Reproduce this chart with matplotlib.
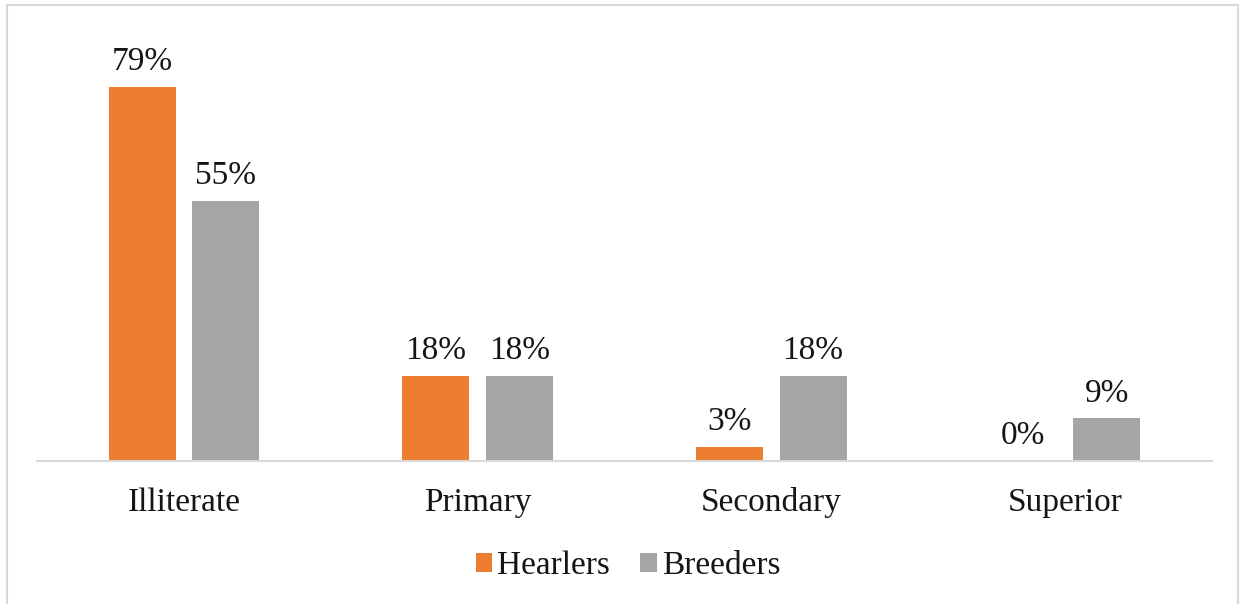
import numpy as np
import matplotlib.pyplot as plt
from matplotlib.patches import Rectangle

categories = ["Illiterate", "Primary", "Secondary", "Superior"]
hearlers = [79, 18, 3, 0]
breeders = [55, 18, 18, 9]

plt.rcParams['font.family'] = ['Liberation Serif', 'DejaVu Serif']

fig = plt.figure(figsize=(12.41, 6.04), dpi=100)
ax = fig.add_axes([37 / 1241, 1 - 461 / 604, 1175 / 1241, (461 - 58.6) / 604])

x = np.arange(len(categories))
w = 0.228
off = 0.142
b1 = ax.bar(x - off, hearlers, w, color='#ED7D31', label='Hearlers')
b2 = ax.bar(x + off, breeders, w, color='#A5A5A5', label='Breeders')

for bars, vals in ((b1, hearlers), (b2, breeders)):
    for r, v in zip(bars, vals):
        ax.annotate(f"{v}%", (r.get_x() + r.get_width() / 2, v),
                    xytext=(0, 7), textcoords='offset points',
                    ha='center', va='bottom', fontsize=24, color='#151515',
                    annotation_clip=False)

ax.set_xlim(-0.5, 3.5)
ax.set_ylim(0, 85)
ax.set_xticks(x)
ax.set_xticklabels(categories, fontsize=24, color='#151515')
ax.tick_params(axis='x', length=0, pad=19)
ax.set_yticks([])
for s in ('top', 'right', 'left'):
    ax.spines[s].set_visible(False)
ax.spines['bottom'].set_color('#D9D9D9')
ax.spines['bottom'].set_linewidth(1.5)

fig.legend(loc='center', bbox_to_anchor=(0.506, 1 - 566 / 604), ncol=2,
           frameon=False, fontsize=24, handlelength=0.5, handleheight=0.5,
           handletextpad=0.15, columnspacing=0.9, labelcolor='#151515')

# thin frame around the whole figure
fig.patches.append(Rectangle((7 / 1241, -0.01), 1231 / 1241, 1 - 5 / 604 + 0.01,
                             transform=fig.transFigure, fill=False,
                             edgecolor='#D9D9D9', linewidth=1.5))

fig.savefig('out.png', dpi=100)
